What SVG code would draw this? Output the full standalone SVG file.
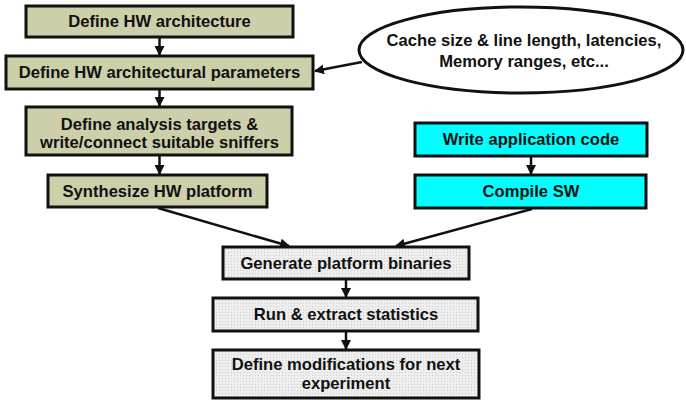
<svg xmlns="http://www.w3.org/2000/svg" width="686" height="400" viewBox="0 0 686 400">
<style>
.box{stroke:#111;stroke-width:3}
.hw{fill:#cdcfaa}
.sw{fill:#00ffff}
.gen{fill:url(#dots)}
.t{font-family:"Liberation Sans",Arial,sans-serif;font-weight:bold;font-size:16.6px;fill:#111;text-anchor:middle}
.c{stroke:#111;stroke-width:2.5;fill:none;marker-end:url(#ah)}
</style>
<defs>
<marker id="ah" viewBox="0 0 10 10" refX="9" refY="5" markerWidth="4" markerHeight="4" orient="auto" markerUnits="strokeWidth">
<path d="M0,0 L10,5 L0,10 z" fill="#111"/>
</marker>
<pattern id="dots" width="3" height="3" patternUnits="userSpaceOnUse">
<rect width="3" height="3" fill="#eeeeee"/>
<rect width="1" height="1" fill="#cfcfcf"/>
</pattern>
</defs>
<g id="connectors">
<line class="c" x1="159.5" y1="37" x2="159.5" y2="55"/>
<line class="c" x1="159.5" y1="90" x2="159.5" y2="106"/>
<line class="c" x1="159.5" y1="156" x2="159.5" y2="174"/>
<line class="c" x1="362" y1="62" x2="315" y2="71"/>
<line class="c" x1="531" y1="157" x2="531" y2="174"/>
<line class="c" x1="158" y1="208" x2="289" y2="246"/>
<line class="c" x1="532" y1="209" x2="396" y2="246"/>
<line class="c" x1="346" y1="280" x2="346" y2="297"/>
<line class="c" x1="346" y1="332" x2="346" y2="349"/>
</g>
<g id="n1"><rect class="box hw" x="26" y="6" width="267" height="31"/><text class="t" x="159.5" y="27">Define HW architecture</text></g>
<g id="n2"><rect class="box hw" x="6" y="56" width="307" height="33"/><text class="t" x="159.5" y="78">Define HW architectural parameters</text></g>
<g id="n3"><rect class="box hw" x="26" y="107" width="266" height="48"/><text class="t" x="159.5" y="130">Define analysis targets &amp;</text><text class="t" x="159.5" y="148">write/connect suitable sniffers</text></g>
<g id="n4"><rect class="box hw" x="48" y="175" width="219" height="32"/><text class="t" x="157.5" y="197">Synthesize HW platform</text></g>
<g id="n5"><ellipse cx="521" cy="50" rx="162" ry="43" fill="#fff" stroke="#111" stroke-width="3"/><text class="t" x="524" y="46">Cache size &amp; line length, latencies,</text><text class="t" x="524" y="67">Memory ranges, etc...</text></g>
<g id="n6"><rect class="box sw" x="415" y="123" width="232" height="33"/><text class="t" x="531" y="145">Write application code</text></g>
<g id="n7"><rect class="box sw" x="415" y="175" width="231" height="33"/><text class="t" x="531" y="197">Compile SW</text></g>
<g id="n8"><rect class="box gen" x="223" y="247" width="246" height="32"/><text class="t" x="346" y="269">Generate platform binaries</text></g>
<g id="n9"><rect class="box gen" x="213" y="298" width="265" height="33"/><text class="t" x="346" y="320">Run &amp; extract statistics</text></g>
<g id="n10"><rect class="box gen" x="213" y="350" width="266" height="48"/><text class="t" x="346" y="370">Define modifications for next</text><text class="t" x="346" y="389">experiment</text></g>
</svg>
